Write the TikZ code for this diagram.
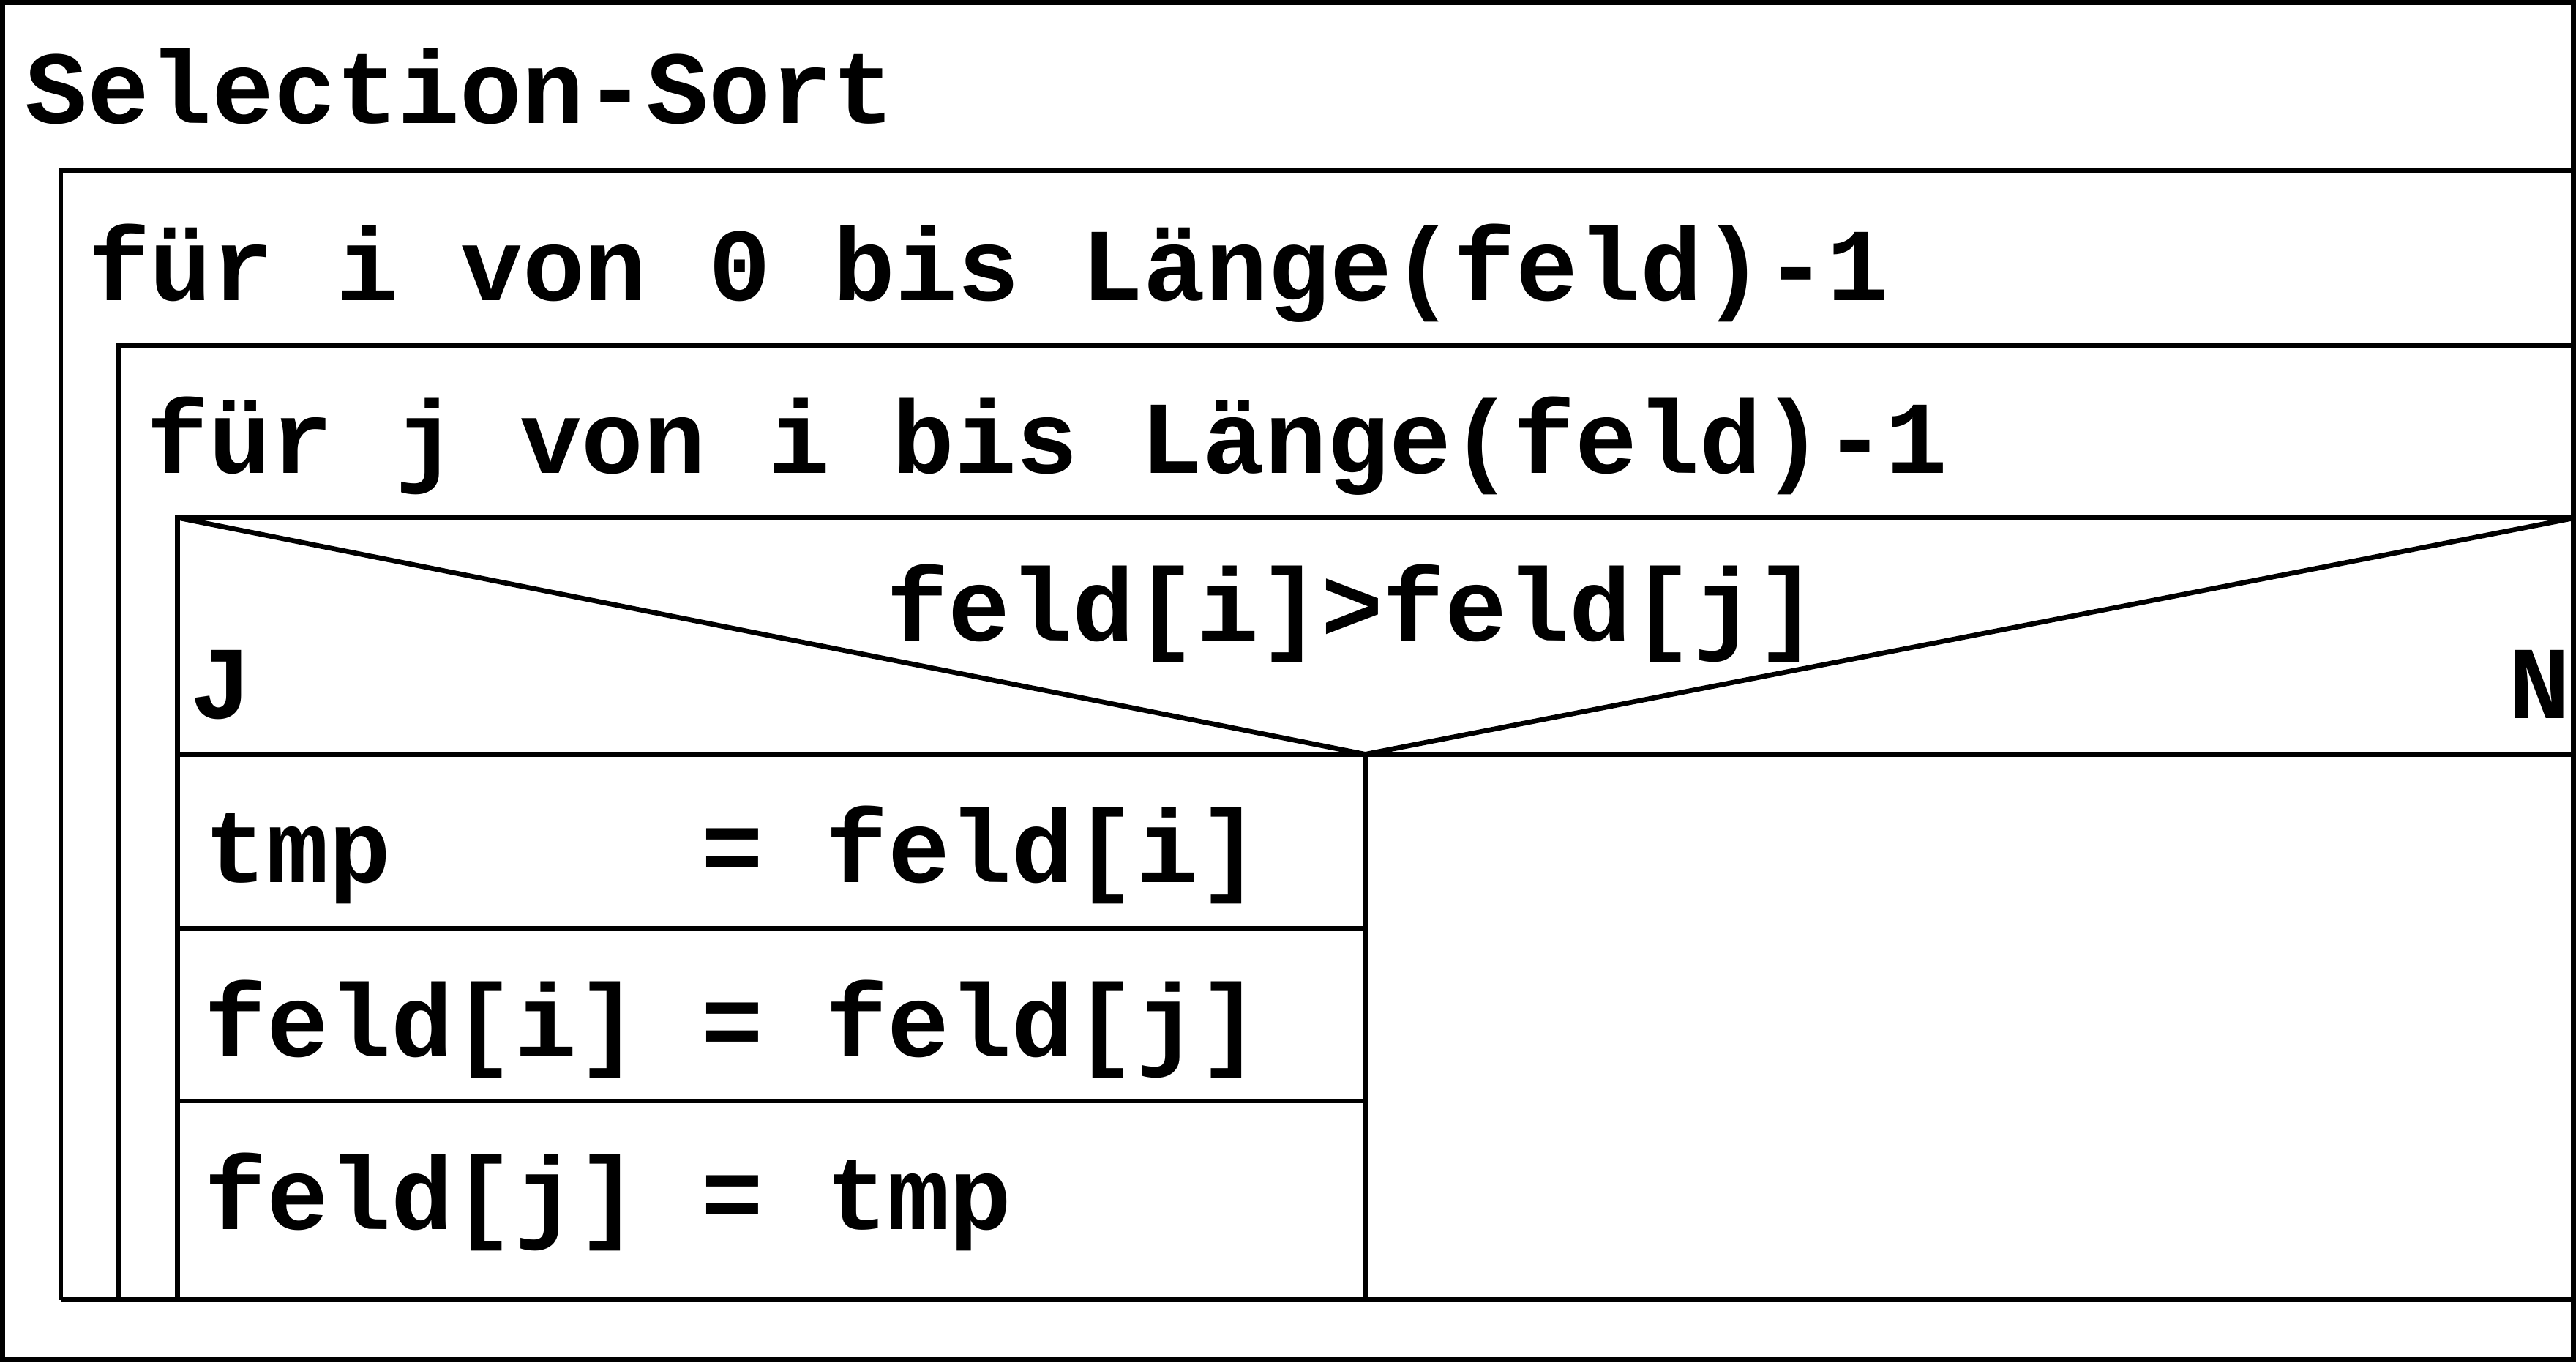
\documentclass[tikz,border=0pt]{standalone}
\usepackage{fontspec}
\setmainfont{Liberation Mono}
\begin{document}
\begin{tikzpicture}[x=1pt,y=-1pt,line width=3pt,
  txt/.style={anchor=base west,inner sep=0pt,font=\fontsize{63}{70}\selectfont\bfseries}]
\useasboundingbox (0,0) rectangle (1568,829);
\draw (1.5,1.5) rectangle (1566.5,827.5);
\draw (37,791) -- (37,104) -- (1568,104);
\draw (72,791) -- (72,210) -- (1568,210);
\draw (108,791) -- (108,315) -- (1568,315);
\draw (37,791) -- (831,791);
\draw (831,791) -- (1568,791);
\coordinate (apex) at (831,459);
\draw (108,315) -- (apex) -- (1568,315);
\draw (108,459) -- (1568,459);
\draw (831,459) -- (831,791);
\draw (108,565) -- (831,565);
\draw (108,670) -- (831,670);
\node[txt] (t0) at (14,75) {Selection-Sort};
\node[txt] (t1) at (52,183) {für i von 0 bis Länge(feld)-1};
\node[txt] (t2) at (88,288) {für j von i bis Länge(feld)-1};
\node[txt,anchor=base] (c) at (823,390) {feld[i]>feld[j]};
\node[txt] (J) at (114,437) {J};
\node[txt,anchor=base east] (N) at (1566,437) {N};
\node[txt] (r1) at (123,537) {tmp\ \ \ \ \ = feld[i]};
\node[txt] (r2) at (123,643) {feld[i] = feld[j]};
\node[txt] (r3) at (123,748) {feld[j] = tmp};
\end{tikzpicture}
\end{document}
